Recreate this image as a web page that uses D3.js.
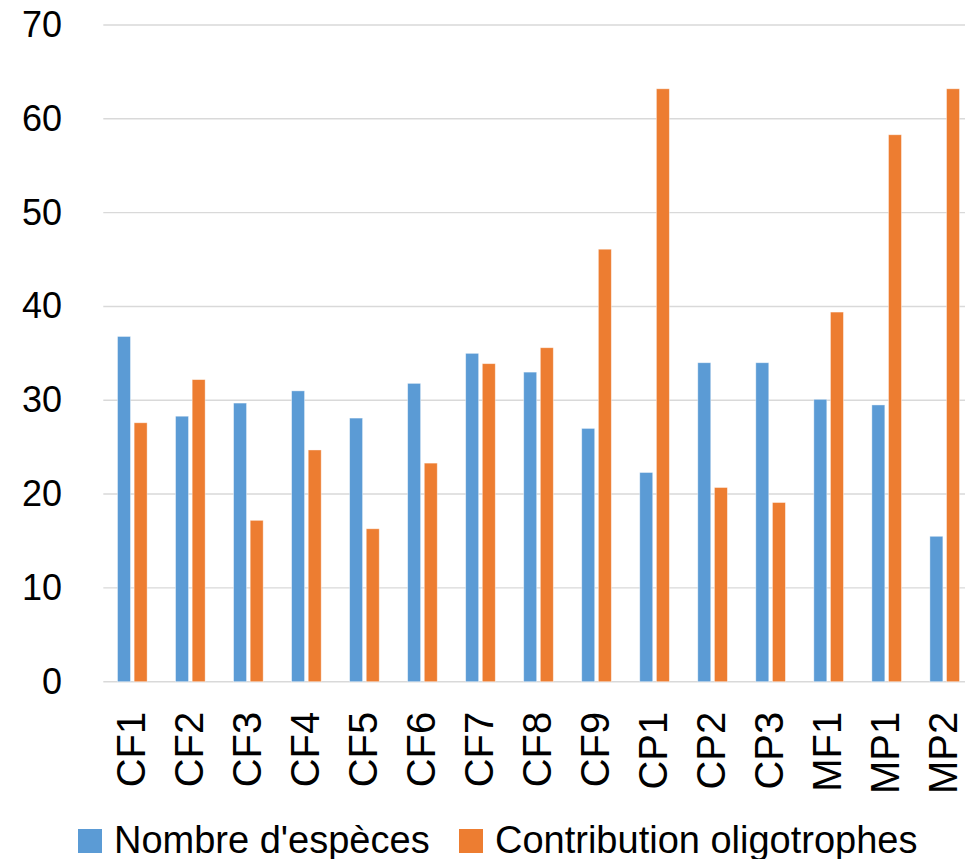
<!DOCTYPE html>
<html>
<head>
<meta charset="utf-8">
<script src="https://cdn.jsdelivr.net/npm/d3@7"></script>
<style>
  html, body { margin: 0; padding: 0; background: #fff; overflow: hidden; }
  svg { display: block; font-family: "Liberation Sans", Arial, sans-serif; }
</style>
</head>
<body>
<svg id="chart" width="965" height="859"></svg>
<script>
const categories = ["CF1","CF2","CF3","CF4","CF5","CF6","CF7","CF8","CF9","CP1","CP2","CP3","MF1","MP1","MP2"];
const seriesNames = ["Nombre d'espèces", "Contribution oligotrophes"];
const especes = [36.8, 28.3, 29.7, 31.0, 28.1, 31.8, 35.0, 33.0, 27.0, 22.3, 34.0, 34.0, 30.1, 29.5, 15.5];
const oligotrophes = [27.6, 32.2, 17.2, 24.7, 16.3, 23.3, 33.9, 35.6, 46.1, 63.2, 20.7, 19.1, 39.4, 58.3, 63.2];
const yTicks = [0, 10, 20, 30, 40, 50, 60, 70];
const colors = ["#5B9BD5", "#ED7D31"];

const seriesValues = [especes, oligotrophes];
const svg = d3.select("#chart");

const plotLeft = 103.3, plotRight = 973.7, yBottom = 681.7, yTop = 25;

const y = d3.scaleLinear().domain([0, 70]).range([yBottom, yTop]);
const x0 = d3.scaleBand().domain(categories).range([plotLeft, plotRight]).padding(0);
const groupW = 29.6;
const x1 = d3.scaleBand().domain([0, 1]).range([0, groupW]).paddingInner(0.22).paddingOuter(0);

// gridlines
svg.append("g").selectAll("line").data(yTicks).join("line")
  .attr("x1", plotLeft).attr("x2", 965)
  .attr("y1", d => y(d)).attr("y2", d => y(d))
  .attr("stroke", "#d9d9d9").attr("stroke-width", 1.4);

// y axis labels
const yAxis = d3.axisLeft(y).tickValues(yTicks).tickSize(0).tickPadding(0);
const ya = svg.append("g").attr("transform", "translate(62,0)").call(yAxis);
ya.select(".domain").remove();
ya.selectAll("text").attr("font-size", 36).attr("fill", "#000")
  .attr("font-family", "'Liberation Sans', Arial, sans-serif");

// bars
const data = [];
categories.forEach((c, i) => {
  seriesValues.forEach((vals, s) => data.push({ c, s, v: vals[i] }));
});
svg.append("g").selectAll("rect").data(data).join("rect")
  .attr("x", d => x0(d.c) + (x0.bandwidth() - groupW) / 2 + x1(d.s))
  .attr("width", x1.bandwidth())
  .attr("y", d => y(d.v))
  .attr("height", d => y(0) - y(d.v))
  .attr("fill", d => colors[d.s])
  .attr("stroke", "#ffffff").attr("stroke-opacity", 0.5).attr("stroke-width", 0.8);

// x axis labels
const xAxis = d3.axisBottom(x0).tickSize(0).tickPadding(0);
const xa = svg.append("g").attr("transform", `translate(0,${yBottom})`).call(xAxis);
xa.select(".domain").remove();
xa.selectAll("text")
  .attr("font-size", 40).attr("fill", "#000")
  .attr("font-family", "'Liberation Sans', Arial, sans-serif")
  .attr("transform", "rotate(-90)")
  .attr("text-anchor", "end")
  .attr("x", -30).attr("y", 0).attr("dy", "0.32em");

// legend
const legendItems = [
  { name: seriesNames[0], color: colors[0], x: 78 },
  { name: seriesNames[1], color: colors[1], x: 459 }
];
const lg = svg.append("g");
legendItems.forEach(it => {
  lg.append("rect").attr("x", it.x).attr("y", 829).attr("width", 24).attr("height", 24).attr("fill", it.color);
  lg.append("text").attr("x", it.x + 36).attr("y", 852.5)
    .attr("font-size", 38).attr("fill", "#000").text(it.name);
});
</script>
</body>
</html>
